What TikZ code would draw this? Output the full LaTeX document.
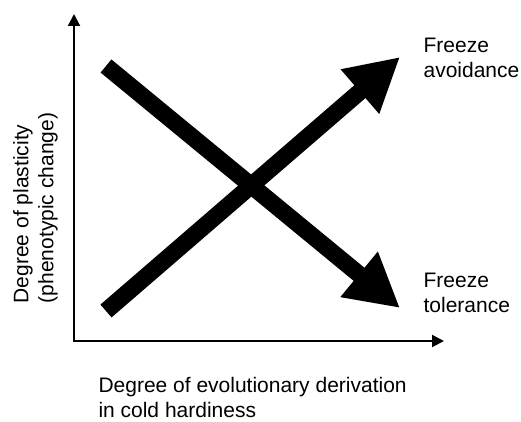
\documentclass[tikz,border=0pt]{standalone}
\usepackage{fontspec}
\setmainfont{Liberation Sans}
\usetikzlibrary{arrows.meta,calc}
\tikzset{
    axes/.style = {draw, line width=2pt,
        {Triangle[length=12pt,width=12pt]}-{Triangle[length=12pt,width=12pt]}},
    trend/.style = {draw, line width=17pt,
        -{Triangle[length=53pt,width=55pt]}},
    txtlabel/.style = {inner sep=0pt, align=left,
        font=\fontsize{21}{25}\selectfont}
}

\begin{document}
\begin{tikzpicture}[x=1pt,y=1pt]
        \useasboundingbox (0,0) rectangle (521,421);
        % axes
        \coordinate (origin) at (74,80);
        \coordinate (ytip) at (74,407);
        \coordinate (xtip) at (444,80);
        \draw[axes] (ytip) -- (origin) -- (xtip);
        % the two trends
        \coordinate (avoidstart) at (106,110);
        \coordinate (avoidend) at (400,364);
        \coordinate (tolstart) at (106,355);
        \coordinate (toleend) at (400,113);
         \draw[trend] (tolstart) -- (toleend);
         \draw[trend] (avoidstart) -- (avoidend);
         \node[txtlabel,anchor=north west] (avoid) at (423.4,382.7) {Freeze\\avoidance};
         \node[txtlabel,anchor=north west] (tolerance) at (423.4,148.3) {Freeze\\tolerance};
        % axis titles
         \node[txtlabel,anchor=north west] (xtitle) at (98.3,43.5) {Degree of evolutionary derivation\\in cold hardiness};
         \node[txtlabel,anchor=north west,rotate=90] (ytitle) at (13,117.6) {Degree of plasticity\\(phenotypic change)};
\end{tikzpicture}
\end{document}
